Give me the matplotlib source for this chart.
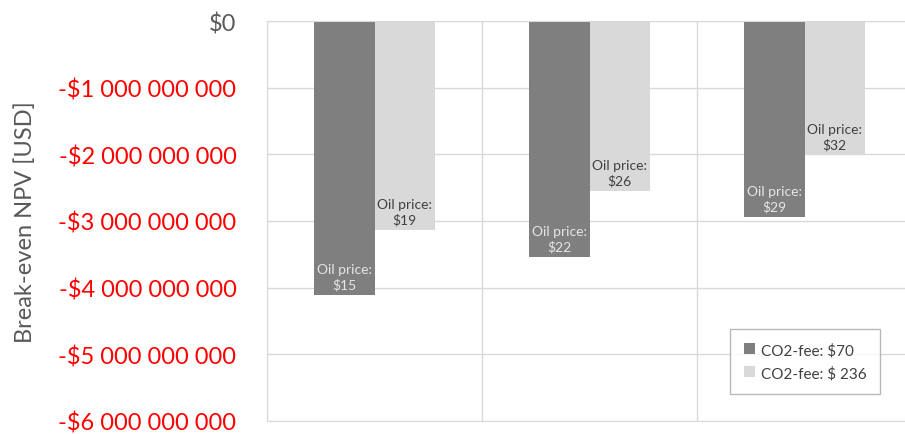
import matplotlib.pyplot as plt
import numpy as np
from matplotlib.ticker import FuncFormatter

plt.rcParams['font.family'] = ['Lato', 'DejaVu Sans']

groups = [0, 1, 2]
fee70_npv = [-4.11e9, -3.54e9, -2.94e9]
fee236_npv = [-3.13e9, -2.55e9, -2.0e9]
fee70_oil = ["$15", "$22", "$29"]
fee236_oil = ["$19", "$26", "$32"]
series_names = ["CO2-fee: $70", "CO2-fee: $ 236"]

dark = "#7f7f7f"
light = "#d9d9d9"
grid = "#d9d9d9"

fig = plt.figure(figsize=(9.05, 4.35), dpi=100)
ax = fig.add_axes([267 / 905, 13 / 435, 645 / 905, 400 / 435])

x = np.array(groups, dtype=float)
w = 0.28
b1 = ax.bar(x - w / 2, fee70_npv, w, color=dark, label=series_names[0], zorder=2)
b2 = ax.bar(x + w / 2, fee236_npv, w, color=light, label=series_names[1], zorder=2)

for rect, oil in zip(b1, fee70_oil):
	ax.annotate("Oil price:\n" + oil, (rect.get_x() + rect.get_width() / 2, rect.get_height()),
				xytext=(0, 3), textcoords="offset points", ha="center", va="bottom",
				fontsize=10, color="#e6e6e6", linespacing=1.3, zorder=3)
for rect, oil in zip(b2, fee236_oil):
	ax.annotate("Oil price:\n" + oil, (rect.get_x() + rect.get_width() / 2, rect.get_height()),
				xytext=(0, 3), textcoords="offset points", ha="center", va="bottom",
				fontsize=10, color="#404040", linespacing=1.3, zorder=3)

ax.set_ylim(-6e9, 0)
ax.set_xlim(-0.5, 2.5)
ax.set_yticks(np.arange(-6e9, 1, 1e9))


def fmt(v, pos):
	if v == 0:
		return "$0"
	return "-$" + f"{abs(v):,.0f}".replace(",", " ")


ax.yaxis.set_major_formatter(FuncFormatter(fmt))
for lbl in ax.get_yticklabels():
	lbl.set_color("#595959" if lbl.get_text() == "$0" else "red")
ax.tick_params(axis="y", labelsize=17, length=0, pad=22)
ax.set_xticks([-0.5, 0.5, 1.5, 2.5])
ax.tick_params(axis="x", length=0, labelbottom=False)
ax.grid(True, color=grid, linewidth=1, zorder=0)
for s in ax.spines.values():
	s.set_color(grid)
ax.set_ylabel("Break-even NPV [USD]", fontsize=17, color="#595959", labelpad=16)

leg = ax.legend(loc="lower right", bbox_to_anchor=((880 - 267) / 645, 0.068),
				borderaxespad=0, fontsize=11, frameon=True, fancybox=False,
				edgecolor="#a6a6a6", handlelength=0.7, handleheight=0.7,
				borderpad=0.9, labelspacing=0.55, handletextpad=0.4)
leg.get_frame().set_linewidth(1)
for t in leg.get_texts():
	t.set_color("#404040")

fig.savefig("out.png", dpi=100)
